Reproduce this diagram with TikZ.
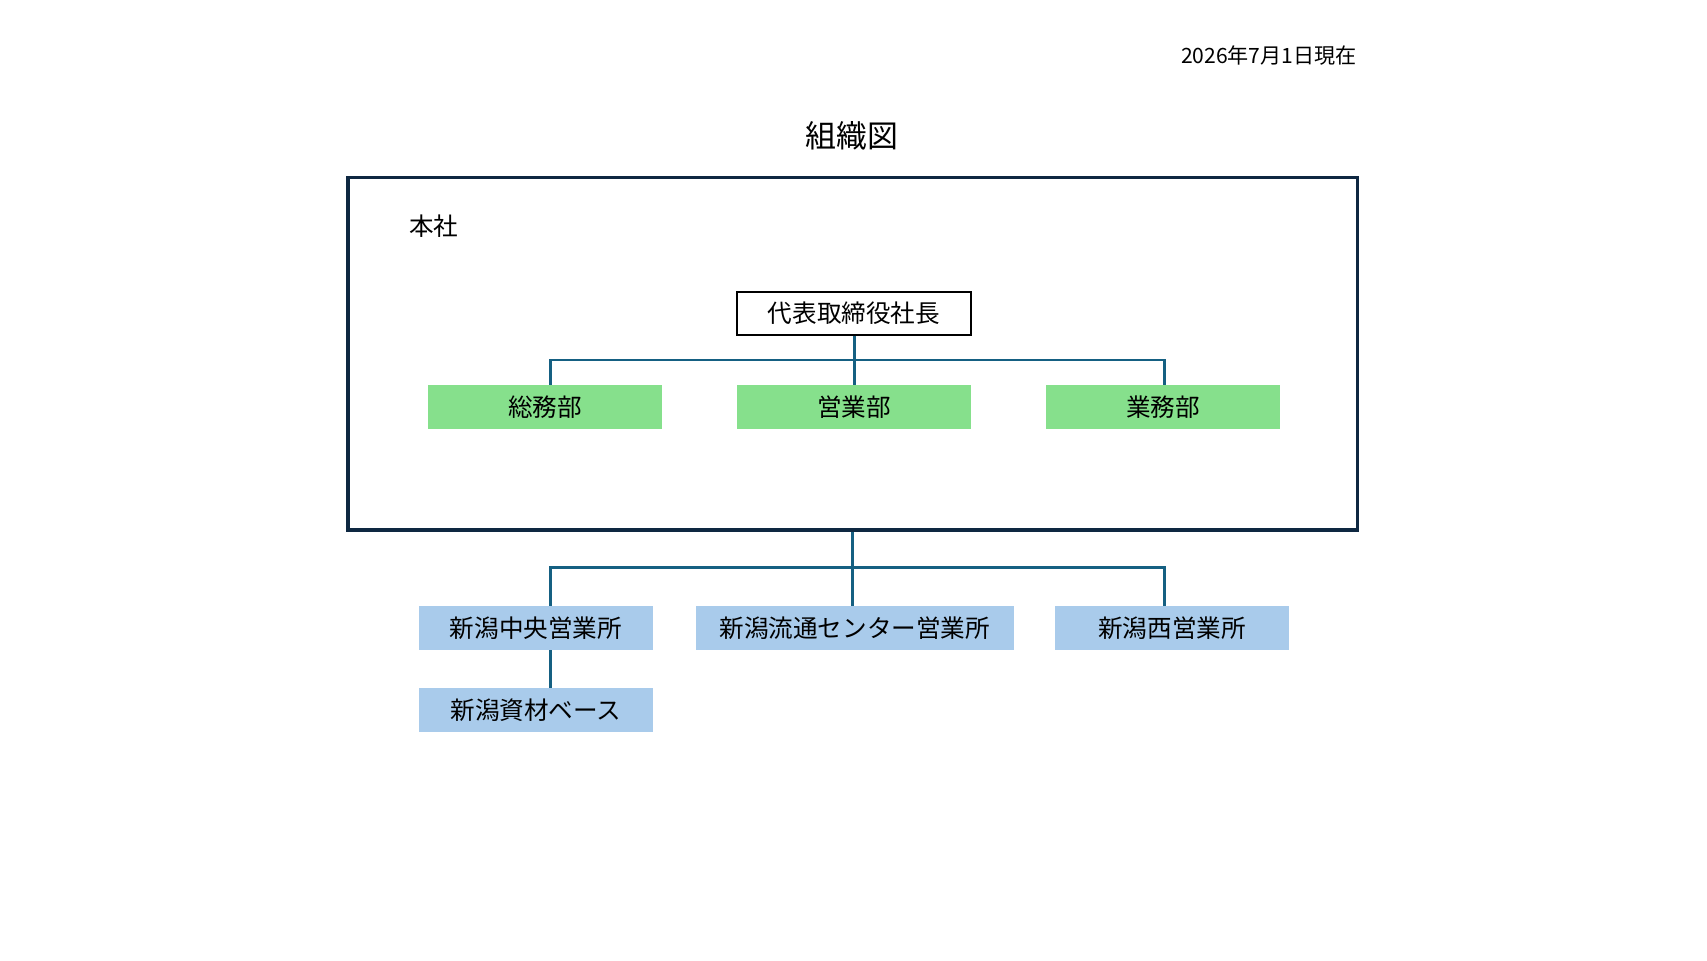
\documentclass[tikz,border=0pt]{standalone}
\usepackage{fontspec}
\setmainfont{Noto Sans CJK JP}
\usetikzlibrary{calc}

\definecolor{framecol}{HTML}{0E2841}
\definecolor{linkcol}{HTML}{156082}
\definecolor{deptgreen}{HTML}{86E08C}
\definecolor{officeblue}{HTML}{A9CBEB}

\tikzset{
    box/.style={minimum width=234*0.02cm, minimum height=44*0.02cm, inner sep=0pt, font=\fontsize{14pt}{16pt}\selectfont},
    head/.style={box, draw=black, line width=0.8pt, fill=white, minimum height=43*0.02cm},
    dept/.style={box, fill=deptgreen},
    office/.style={box, fill=officeblue},
    link/.style={linkcol, line width=1.7pt},
}

\begin{document}
\begin{tikzpicture}[x=0.02cm, y=-0.02cm]
    \useasboundingbox (0,0) rectangle (1707,960);

    % date and title
    \node[anchor=east, inner sep=0pt, font=\fontsize{12pt}{14pt}\selectfont] (date) at (1357,55.5) {2026年7月1日現在};
    \node[font=\fontsize{17.6pt}{20pt}\selectfont] (title) at (852,136) {組織図};

    % head office frame
    \node[draw=framecol, line width=1.9pt, minimum width=1009.6*0.02cm, minimum height=352.5*0.02cm, inner sep=0pt] (hq) at (852.8,353.75) {};
    \node[anchor=west, inner sep=0pt, font=\fontsize{14pt}{16pt}\selectfont] (hqlabel) at (409,226) {本社};

    \node[head] (pres) at (854,313.5) {代表取締役社長};
    \node[dept] (soumu) at (545,407) {総務部};
    \node[dept] (eigyo) at (854,407) {営業部};
    \node[dept] (gyomu) at (1163,407) {業務部};

    % branch offices
    \node[office] (chuo) at (536,628) {新潟中央営業所};
    \node[office, minimum width=318*0.02cm] (ryutsu) at (854.7,628) {新潟流通センター営業所};
    \node[office] (nishi) at (1172,628) {新潟西営業所};
    \node[office] (shizai) at (536,710) {新潟資材ベース};

    \coordinate (upL) at (550,360);
    \coordinate (upR) at (1164,360);
    \coordinate (loL) at (550,567);
    \coordinate (loR) at (1164,567);

    \draw[link] (pres.south) -- (eigyo.north);
    \draw[link] (upL |- soumu.north) -- (upL) -- (upR) -- (upR |- gyomu.north);

    \draw[link] (hq.south) -- (hq.south |- ryutsu.north);
    \draw[link] (loL |- chuo.north) -- (loL) -- (loR) -- (loR |- nishi.north);
    \draw[link] (loL |- chuo.south) -- (loL |- shizai.north);
\end{tikzpicture}
\end{document}
